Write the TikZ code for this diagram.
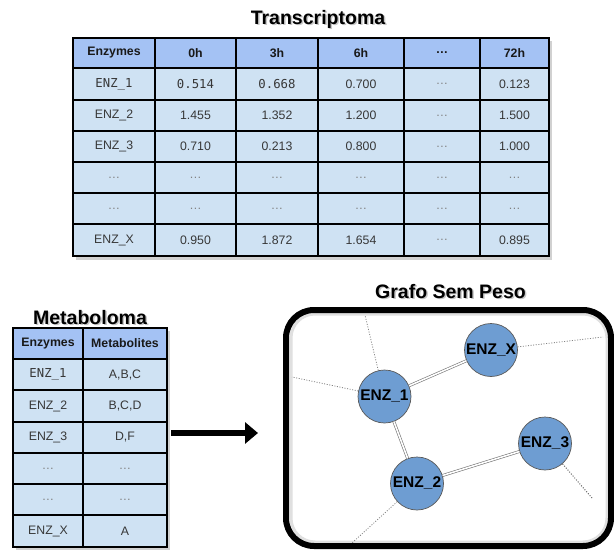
\documentclass[tikz,border=0pt]{standalone}
\usepackage{fontspec}
\setmainfont{Liberation Sans}
\newfontfamily\monof{DejaVu Sans Mono}
\usetikzlibrary{arrows.meta,shapes.geometric}
\definecolor{hdr}{RGB}{164,194,244}
\definecolor{cellc}{RGB}{207,226,243}
\definecolor{nodec}{RGB}{110,157,210}
\definecolor{txt}{RGB}{55,55,55}
\definecolor{dotc}{RGB}{130,130,130}
\newcommand\tcell[7]{\node[#6, minimum width={#3-#2}, minimum height={#5-#4}] (#1) at ({(#2+#3)/2},{(#4+#5)/2}) {#7};}
\begin{document}
\begin{tikzpicture}[x=1pt,y=-1pt,
  cellbox/.style={draw=black, line width=2.6pt, fill=cellc, inner sep=0pt, text=txt, font=\fontsize{12.3}{14}\selectfont},
  hdrbox/.style={cellbox, fill=hdr, text=black!90, font=\fontsize{12.3}{14}\selectfont\bfseries},
  dotbox/.style={cellbox, text=black!50},
  titletext/.style={font=\fontsize{19.5}{22}\selectfont\bfseries, text=black, anchor=base, inner sep=0pt},
  titleshadow/.style={titletext, text=black, opacity=0.22},
  enz/.style={circle, draw=black!65, line width=0.7pt, fill=nodec, minimum size=53pt, inner sep=0pt, font=\fontsize{15.5}{18}\selectfont\bfseries, text=black},
  link/.style={draw=black!55, double=white, double distance=1.6pt, line width=0.6pt},
  dotline/.style={draw=dotc, line width=0.8pt, dash pattern=on 1pt off 1.6pt},
  bigarrow/.style={line width=6pt, -{Triangle[width=21pt,length=13pt]}}
]
\useasboundingbox (0,0) rectangle (614,554);
\fill[white] (0,0) rectangle (614,554);

% ---------- Titles ----------
\node[titleshadow] (ttr-s) at (319.5,25.5) {Transcriptoma};
\node[titletext] (ttr) at (318,24) {Transcriptoma};
\node[titleshadow] (tme-s) at (91.5,325.5) {Metaboloma};
\node[titletext] (tme) at (90,324) {Metaboloma};
\node[titleshadow] (tgr-s) at (452,299.5) {Grafo Sem Peso};
\node[titletext] (tgr) at (450.5,298) {Grafo Sem Peso};

% ---------- Transcriptoma table ----------
\fill[black, opacity=0.18] (76,41) rectangle (552,260);
\tcell{t00}{73}{155}{38}{68}{hdrbox}{Enzymes}
\tcell{t01}{155}{236}{38}{68}{hdrbox}{0h}
\tcell{t02}{236}{318}{38}{68}{hdrbox}{3h}
\tcell{t03}{318}{404}{38}{68}{hdrbox}{6h}
\tcell{t04}{404}{480}{38}{68}{hdrbox}{…}
\tcell{t05}{480}{549}{38}{68}{hdrbox}{72h}

\tcell{t10}{73}{155}{68}{100}{cellbox}{\monof ENZ\_1}
\tcell{t11}{155}{236}{68}{100}{cellbox}{\monof 0.514}
\tcell{t12}{236}{318}{68}{100}{cellbox}{\monof 0.668}
\tcell{t13}{318}{404}{68}{100}{cellbox}{0.700}
\tcell{t14}{404}{480}{68}{100}{dotbox}{…}
\tcell{t15}{480}{549}{68}{100}{cellbox}{0.123}

\tcell{t20}{73}{155}{100}{131}{cellbox}{ENZ\_2}
\tcell{t21}{155}{236}{100}{131}{cellbox}{1.455}
\tcell{t22}{236}{318}{100}{131}{cellbox}{1.352}
\tcell{t23}{318}{404}{100}{131}{cellbox}{1.200}
\tcell{t24}{404}{480}{100}{131}{dotbox}{…}
\tcell{t25}{480}{549}{100}{131}{cellbox}{1.500}

\tcell{t30}{73}{155}{131}{162}{cellbox}{ENZ\_3}
\tcell{t31}{155}{236}{131}{162}{cellbox}{0.710}
\tcell{t32}{236}{318}{131}{162}{cellbox}{0.213}
\tcell{t33}{318}{404}{131}{162}{cellbox}{0.800}
\tcell{t34}{404}{480}{131}{162}{dotbox}{…}
\tcell{t35}{480}{549}{131}{162}{cellbox}{1.000}

\tcell{t40}{73}{155}{162}{193}{dotbox}{…}
\tcell{t41}{155}{236}{162}{193}{dotbox}{…}
\tcell{t42}{236}{318}{162}{193}{dotbox}{…}
\tcell{t43}{318}{404}{162}{193}{dotbox}{…}
\tcell{t44}{404}{480}{162}{193}{dotbox}{…}
\tcell{t45}{480}{549}{162}{193}{dotbox}{…}

\tcell{t50}{73}{155}{193}{224}{dotbox}{…}
\tcell{t51}{155}{236}{193}{224}{dotbox}{…}
\tcell{t52}{236}{318}{193}{224}{dotbox}{…}
\tcell{t53}{318}{404}{193}{224}{dotbox}{…}
\tcell{t54}{404}{480}{193}{224}{dotbox}{…}
\tcell{t55}{480}{549}{193}{224}{dotbox}{…}

\tcell{t60}{73}{155}{224}{256}{cellbox}{ENZ\_X}
\tcell{t61}{155}{236}{224}{256}{cellbox}{0.950}
\tcell{t62}{236}{318}{224}{256}{cellbox}{1.872}
\tcell{t63}{318}{404}{224}{256}{cellbox}{1.654}
\tcell{t64}{404}{480}{224}{256}{dotbox}{…}
\tcell{t65}{480}{549}{224}{256}{cellbox}{0.895}

% ---------- Metaboloma table ----------
\fill[black, opacity=0.18] (16,331) rectangle (170,550);
\tcell{m00}{13}{83}{328}{359}{hdrbox}{Enzymes}
\tcell{m01}{83}{167}{328}{359}{hdrbox}{Metabolites}
\tcell{m10}{13}{83}{359}{390}{cellbox}{\monof ENZ\_1}
\tcell{m11}{83}{167}{359}{390}{cellbox}{A,B,C}
\tcell{m20}{13}{83}{390}{422}{cellbox}{ENZ\_2}
\tcell{m21}{83}{167}{390}{422}{cellbox}{B,C,D}
\tcell{m30}{13}{83}{422}{453}{cellbox}{ENZ\_3}
\tcell{m31}{83}{167}{422}{453}{cellbox}{D,F}
\tcell{m40}{13}{83}{453}{484}{dotbox}{…}
\tcell{m41}{83}{167}{453}{484}{dotbox}{…}
\tcell{m50}{13}{83}{484}{515}{dotbox}{…}
\tcell{m51}{83}{167}{484}{515}{dotbox}{…}
\tcell{m60}{13}{83}{515}{547}{cellbox}{ENZ\_X}
\tcell{m61}{83}{167}{515}{547}{cellbox}{A}

% ---------- Arrow ----------
\coordinate (as) at (171,433);
\coordinate (ae) at (258,433);
\draw[bigarrow] (as) -- (ae);

% ---------- Graph box ----------
\draw[black!12, line width=3pt, rounded corners=24pt] (291,314) rectangle (607,542);
\draw[black, line width=6pt, rounded corners=28pt] (286,310) rectangle (611,546);

% ---------- Graph ----------
\node[enz] (e1) at (384.5,396.5) {ENZ\_1};
\node[enz] (ex) at (491,350) {ENZ\_X};
\node[enz] (e2) at (417,483.5) {ENZ\_2};
\node[enz] (e3) at (545,443.5) {ENZ\_3};

\coordinate (d1) at (365,315);
\coordinate (d2) at (292,377);
\coordinate (d3) at (603,337);
\coordinate (d4) at (592,498);
\coordinate (d5) at (352,543);

\draw[dotline] (e1) -- (d1);
\draw[dotline] (e1) -- (d2);
\draw[dotline] (ex) -- (d3);
\draw[dotline, draw=black!60, line width=1pt] (e3) -- (d4);
\draw[dotline] (e2) -- (d5);

\draw[link] (e1) -- (ex);
\draw[link] (e1) -- (e2);
\draw[link] (e2) -- (e3);
\end{tikzpicture}
\end{document}
